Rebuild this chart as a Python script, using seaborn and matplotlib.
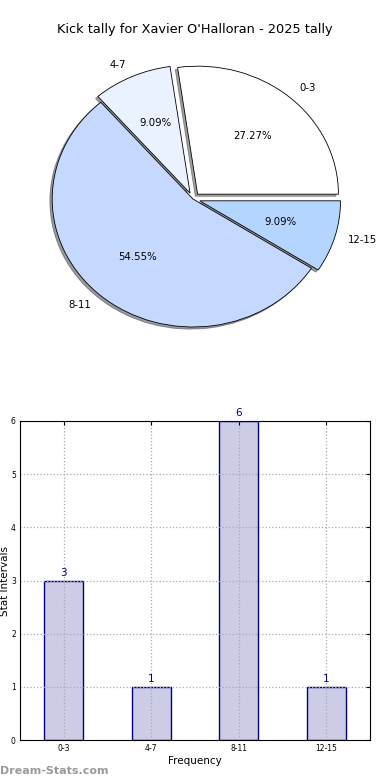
import matplotlib
matplotlib.use("Agg")
import matplotlib.pyplot as plt
import seaborn as sns

# Datos
intervalos = ["0-3", "4-7", "8-11", "12-15"]
conteos = [3, 1, 6, 1]
colores_pie = ["#ffffff", "#eaf1ff", "#c5d8ff", "#b3d5ff"]
separacion = [0.05, 0.05, 0.0, 0.05]

sns.set_style("white")
plt.rcParams["font.family"] = ["DejaVu Sans"]
plt.rcParams["text.color"] = "black"
plt.rcParams["axes.labelcolor"] = "black"
plt.rcParams["xtick.color"] = "black"
plt.rcParams["ytick.color"] = "black"

fig = plt.figure(figsize=(3.9, 7.8), dpi=100)

# -- Pastel -------------------------------------------------------------------
ax1 = fig.add_axes([17 / 390, 1 - 359 / 780, 352 / 390, 320 / 780])
ax1.pie(conteos, labels=intervalos, colors=colores_pie, explode=separacion,
        autopct="%.2f%%", shadow={"ox": -0.012, "oy": -0.012, "shade": 0.75},
        startangle=0, counterclock=True,
        wedgeprops={"edgecolor": "black", "linewidth": 0.6},
        textprops={"fontsize": 7.3})
ax1.set_aspect("auto")
ax1.set_xlim(-1.25, 1.25)
ax1.set_ylim(-1.25, 1.25)
ax1.axis("off")
fig.text(0.5, 1 - 30 / 780, "Kick tally for Xavier O'Halloran - 2025 tally",
         ha="center", va="center", fontsize=9.3)

# -- Barras -------------------------------------------------------------------
ax2 = fig.add_axes([20 / 390, 1 - 740 / 780, 350 / 390, 319 / 780])
sns.barplot(x=intervalos, y=conteos, ax=ax2, color="#ccccE6", saturation=1,
            edgecolor="#000080", linewidth=1, width=0.45, zorder=2)
ax2.set_xlim(-0.5, 3.5)
ax2.set_ylim(0, 6)
ax2.grid(True, linestyle=":", color="#aaaaaa", linewidth=0.9, zorder=3)
ax2.set_axisbelow(False)
for i, v in enumerate(conteos):
    ax2.text(i, v + 0.05, str(v), ha="center", va="bottom", color="#000080", fontsize=7.5)
ax2.tick_params(direction="in", top=True, right=True, labelsize=5.5, length=3, pad=3)
for s in ax2.spines.values():
    s.set_color("black")
    s.set_linewidth(0.8)
    s.set_zorder(4)
ax2.set_xlabel("Frequency", fontsize=7.5, labelpad=2)
ax2.set_ylabel("Stat Intervals", fontsize=7.5, labelpad=1)

fig.text(0, 1 - 771 / 780, "Dream-Stats.com", ha="left", va="center",
         fontsize=8, color="#999999", fontweight="bold")

fig.savefig("out.png", dpi=100)
